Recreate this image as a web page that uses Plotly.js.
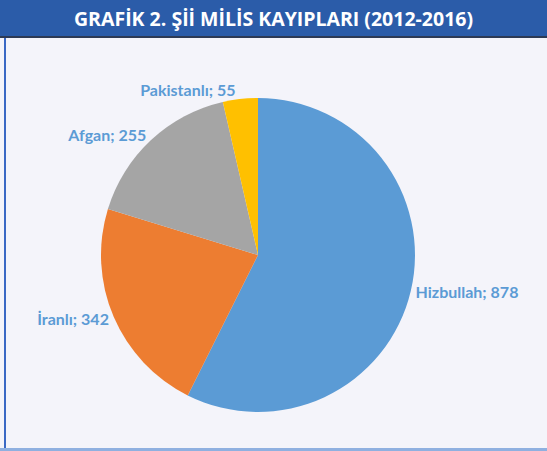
<!DOCTYPE html>
<html>
<head>
<meta charset="utf-8">
<script src="https://cdn.plot.ly/plotly-3.0.1.min.js"></script>
<style>html,body{margin:0;padding:0;background:#f4f4fa;}#chart{width:547px;height:451px;}</style>
</head>
<body>
<div id="chart"></div>
<script>
var labels = ["Hizbullah", "İranlı", "Afgan", "Pakistanlı"];
var values = [878, 342, 255, 55];
var colors = ["#5b9bd5", "#ed7d31", "#a5a5a5", "#ffc000"];
var chartTitle = "GRAFİK 2. Şİİ MİLİS KAYIPLARI (2012-2016)";

var trace = {
  type: "pie",
  labels: labels,
  values: values,
  sort: false,
  direction: "clockwise",
  rotation: 0,
  marker: {colors: colors, line: {width: 0}},
  textposition: "outside",
  texttemplate: "%{label}; %{value}",
  outsidetextfont: {family: "Lato, sans-serif", size: 16, color: "#5b9bd5", weight: "bold"},
  hoverinfo: "none",
  showlegend: false,
  domain: {x: [0.1846, 0.7587], y: [0.0865, 0.7827]}
};

var layout = {
  width: 547, height: 451,
  margin: {l: 0, r: 0, t: 0, b: 0},
  paper_bgcolor: "#f4f4fa",
  plot_bgcolor: "#f4f4fa",
  shapes: [
    {type: "rect", xref: "paper", yref: "paper", x0: 0, x1: 1, y0: 1 - 36/451, y1: 1, fillcolor: "#2b5ca9", line: {width: 0}, layer: "below"},
    {type: "rect", xref: "paper", yref: "paper", x0: 0, x1: 1, y0: 1 - 38/451, y1: 1 - 36/451, fillcolor: "#2d3a55", line: {width: 0}, layer: "below"},
    {type: "rect", xref: "paper", yref: "paper", x0: 4/547, x1: 6/547, y0: 0, y1: 1 - 38/451, fillcolor: "#3a68c4", line: {width: 0}, layer: "below"},
    {type: "rect", xref: "paper", yref: "paper", x0: 0, x1: 1, y0: 0, y1: 3/451, fillcolor: "#8fb0e0", line: {width: 0}, layer: "below"}
  ],
  annotations: [
    {text: chartTitle, xref: "paper", yref: "paper", x: 0.5, y: 1 - 18/451, xanchor: "center", yanchor: "middle", showarrow: false,
     font: {family: "Open Sans, sans-serif", size: 19.5, color: "#ffffff", weight: "bold"}}
  ]
};

Plotly.newPlot("chart", [trace], layout, {displayModeBar: false, staticPlot: true});
</script>
</body>
</html>
